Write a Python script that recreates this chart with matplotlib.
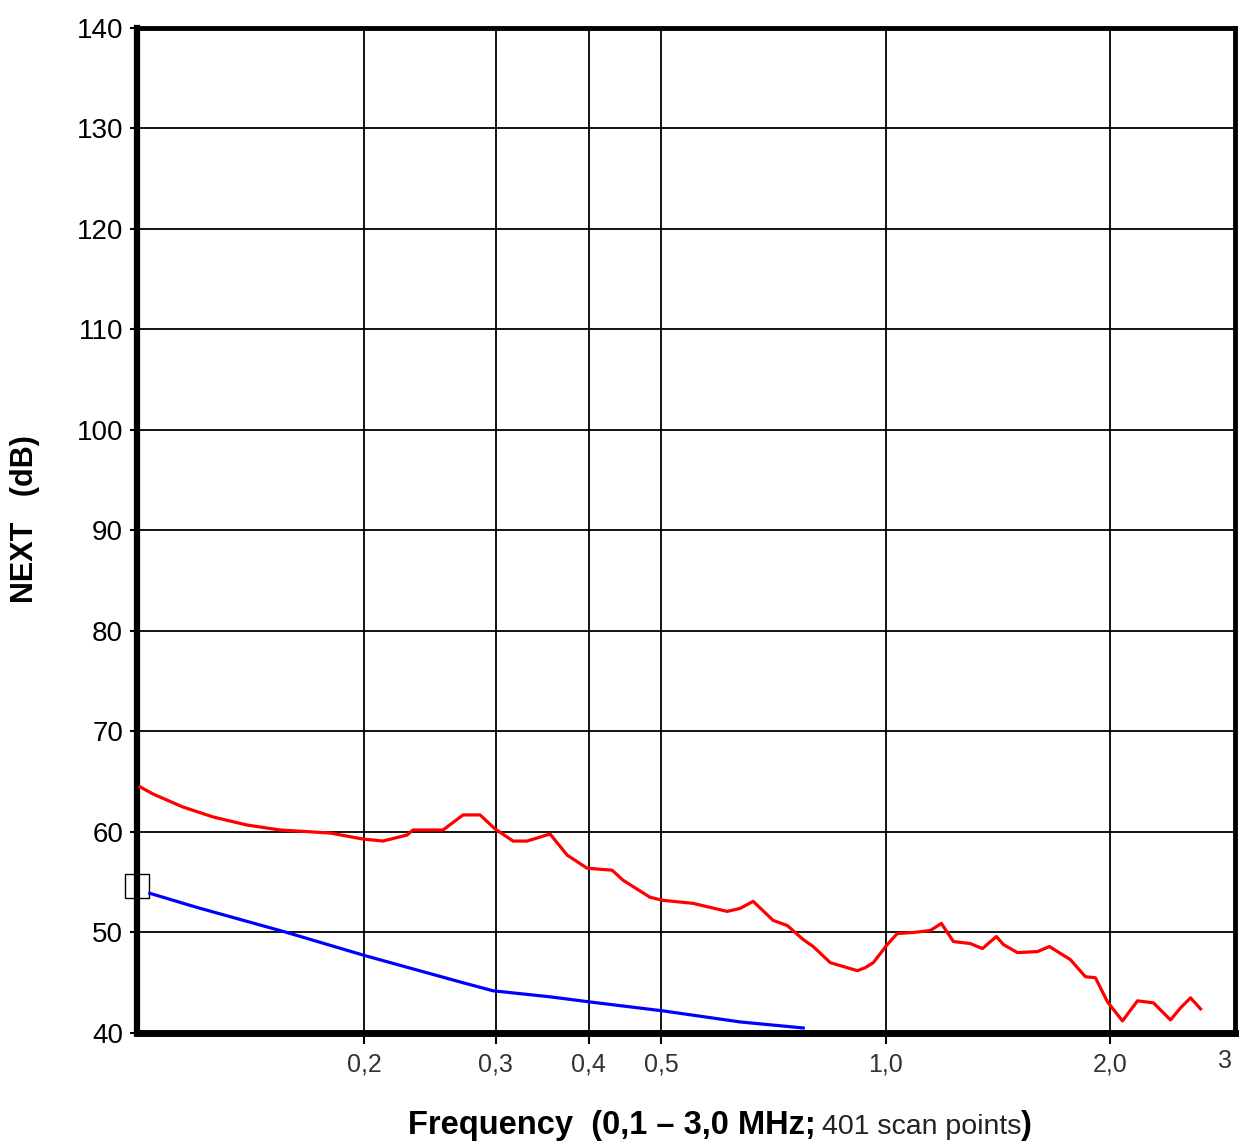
import matplotlib
matplotlib.use("Agg")
import matplotlib.pyplot as plt
from matplotlib import font_manager

# ---- data ----
red_freq = [0.1001, 0.1041, 0.1142, 0.1254, 0.1392, 0.1542, 0.1799, 0.1993, 0.2119, 0.2283,
            0.2325, 0.2551, 0.2714, 0.2860, 0.2996, 0.3167, 0.3307, 0.3550, 0.3742, 0.3979,
            0.4299, 0.4447, 0.4834, 0.5031, 0.5519, 0.6132, 0.6383, 0.6645, 0.7068, 0.7381,
            0.7754, 0.7998, 0.8430, 0.9164, 0.9392, 0.9627, 1.0053, 1.0368, 1.0893, 1.1480,
            1.1879, 1.2327, 1.2991, 1.3481, 1.4077, 1.4385, 1.5021, 1.5977, 1.6580, 1.7689,
            1.8528, 1.9109, 1.9832, 2.0773, 2.1758, 2.2861, 2.4092, 2.4849, 2.5630, 2.6434]
red_next = [64.5, 63.8, 62.5, 61.5, 60.7, 60.2, 59.9, 59.3, 59.1, 59.7,
            60.2, 60.2, 61.7, 61.7, 60.3, 59.1, 59.1, 59.8, 57.7, 56.4,
            56.2, 55.2, 53.5, 53.2, 52.9, 52.1, 52.4, 53.1, 51.2, 50.7,
            49.3, 48.6, 47.0, 46.2, 46.5, 47.0, 48.8, 49.9, 50.0, 50.2,
            50.9, 49.1, 48.9, 48.4, 49.6, 48.8, 48.0, 48.1, 48.6, 47.3,
            45.6, 45.5, 43.1, 41.2, 43.2, 43.0, 41.3, 42.5, 43.5, 42.4]

blue_freq = [0.1032, 0.1193, 0.1576, 0.2005, 0.2714, 0.2977, 0.3550, 0.4004, 0.5031, 0.6383, 0.7754]
blue_next = [53.9, 52.5, 50.0, 47.7, 45.0, 44.2, 43.6, 43.1, 42.2, 41.1, 40.5]

marker_next = 54.6

x_ticks = [0.2, 0.3, 0.4, 0.5, 1.0, 2.0]
x_ticklabels = ["0,2", "0,3", "0,4", "0,5", "1,0", "2,0"]
x_end_label = "3"
y_ticks = [40, 50, 60, 70, 80, 90, 100, 110, 120, 130, 140]
y_ticklabels = [str(v) for v in y_ticks]

# ---- fonts ----
avail = {f.name for f in font_manager.fontManager.ttflist}
main_font = "Liberation Sans" if "Liberation Sans" in avail else "DejaVu Sans"
narrow_font = "Liberation Sans Narrow" if "Liberation Sans Narrow" in avail else main_font

W, H = 1241, 1144
fig = plt.figure(figsize=(W / 100, H / 100), dpi=100)
ax = fig.add_axes([137 / W, (H - 1033) / H, 1098 / W, 1005 / H])

ax.set_xscale("log")
ax.set_xlim(0.0992, 2.94)
ax.set_ylim(40, 140)

for xv in x_ticks:
    ax.axvline(xv, color="black", lw=1.3, zorder=1)
for yv in y_ticks[1:-1]:
    ax.axhline(yv, color="black", lw=1.3, zorder=1)

ax.plot(red_freq, red_next, color="#ff0000", lw=2.3, zorder=3, solid_joinstyle="round")
ax.plot(blue_freq, blue_next, color="#0000ff", lw=2.3, zorder=3)
ax.plot([0.0992], [marker_next], marker="s", ms=17, mfc="none", mec="black",
        mew=1.0, ls="none", clip_on=False, zorder=0)

ax.minorticks_off()
ax.set_xticks(x_ticks)
ax.set_xticklabels(x_ticklabels, fontfamily=narrow_font, fontsize=18)
ax.set_yticks(y_ticks)
ax.set_yticklabels(y_ticklabels, fontfamily=main_font, fontsize=20)
ax.tick_params(axis="x", direction="out", length=8, width=1.5, pad=6, colors="black")
ax.tick_params(axis="y", direction="out", length=5, width=1.5, pad=5, colors="black")
for lab in ax.get_xticklabels():
    lab.set_color("#333333")

# end label "3" at right edge (no tick)
ax.text((1225 - 137) / 1098, -0.0155, x_end_label, transform=ax.transAxes, ha="center",
        va="top", fontfamily=narrow_font, fontsize=18, color="#333333")

for side, lw in [("left", 4.5), ("bottom", 5.0), ("top", 3.5), ("right", 3.5)]:
    ax.spines[side].set_linewidth(lw)
    ax.spines[side].set_color("black")

# y label
fig.text(25 / W, 1 - 519 / H, "NEXT   (dB)", rotation=90, ha="center", va="center",
         fontfamily=main_font, fontweight="bold", fontsize=22)

# x label in three pieces
base_y = (H - 1134) / H
t1 = fig.text(408 / W, base_y, "Frequency  (0,1 \u2013 3,0 MHz;", ha="left", va="baseline",
              fontfamily=main_font, fontweight="bold", fontsize=23.5)
fig.canvas.draw()
r = fig.canvas.get_renderer()
bb = t1.get_window_extent(r)
t2 = fig.text(bb.x1 / W + 6 / W, base_y, "401 scan points", ha="left", va="baseline",
              fontfamily=narrow_font, fontsize=20.5, color="#222222")
fig.canvas.draw()
bb2 = t2.get_window_extent(r)
fig.text(bb2.x1 / W, base_y, ")", ha="left", va="baseline",
         fontfamily=main_font, fontweight="bold", fontsize=23.5)

fig.savefig("out.png", dpi=100, facecolor="white")
